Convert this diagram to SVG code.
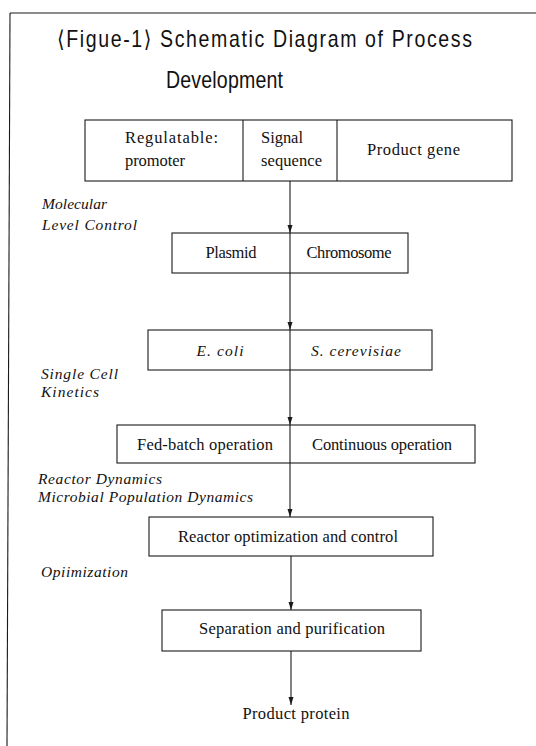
<svg xmlns="http://www.w3.org/2000/svg" width="536" height="746" viewBox="0 0 536 746">
<style>
.box{fill:none;stroke:#1a1a1a;stroke-width:1.1}
.ln{fill:none;stroke:#1a1a1a;stroke-width:1.1}
.t{font-family:"Liberation Serif","Times New Roman",serif;font-size:16.5px;fill:#111}
.c{text-anchor:middle}
.i{font-family:"Liberation Serif","Times New Roman",serif;font-size:15.5px;font-style:italic;fill:#111}
.h{font-family:"Liberation Sans","DejaVu Sans",sans-serif;font-size:23px;fill:#111}
</style>
<defs>
<marker id="ah" markerUnits="userSpaceOnUse" markerWidth="8" markerHeight="6" refX="8" refY="3" orient="auto" viewBox="0 0 8 6">
<path d="M0,0.5 L8,3 L0,5.5 Z" fill="#1a1a1a"/>
</marker>
</defs>
<rect width="536" height="746" fill="#fff"/>
<g id="frame">
<line class="ln" x1="10" y1="13" x2="536" y2="13"/>
<line class="ln" x1="10" y1="13" x2="7" y2="746"/>
</g>
<g id="title" transform="scale(0.85,1)">
<text class="h" x="67.06" y="47" textLength="488.2" lengthAdjust="spacing">⟨Figue-1⟩ Schematic Diagram of Process</text>
<text class="h" x="195.3" y="88" textLength="137.6" lengthAdjust="spacing">Development</text>
</g>
<g id="gene">
<rect class="box" x="85" y="120" width="427" height="61"/>
<line class="ln" x1="243" y1="120" x2="243" y2="181"/>
<line class="ln" x1="337" y1="120" x2="337" y2="181"/>
<text class="t" x="125" y="143" textLength="93" lengthAdjust="spacing">Regulatable:</text>
<text class="t" x="125" y="166" textLength="60" lengthAdjust="spacing">promoter</text>
<text class="t" x="261" y="143" textLength="42" lengthAdjust="spacing">Signal</text>
<text class="t" x="261" y="166" textLength="61" lengthAdjust="spacing">sequence</text>
<text class="t" x="367" y="155" textLength="93" lengthAdjust="spacing">Product gene</text>
</g>
<g id="vector">
<rect class="box" x="172" y="233" width="236" height="40"/>
<line class="ln" x1="290" y1="233" x2="290" y2="273"/>
<text class="t c" x="231" y="258" textLength="51" lengthAdjust="spacing">Plasmid</text>
<text class="t c" x="349" y="258" textLength="85" lengthAdjust="spacing">Chromosome</text>
</g>
<g id="host">
<rect class="box" x="148" y="330" width="284" height="40"/>
<line class="ln" x1="290" y1="330" x2="290" y2="370"/>
<text class="i c" x="220" y="356" textLength="47" lengthAdjust="spacing">E. coli</text>
<text class="i c" x="356" y="356" textLength="90" lengthAdjust="spacing">S. cerevisiae</text>
</g>
<g id="operation">
<rect class="box" x="117" y="425" width="358" height="38"/>
<line class="ln" x1="290" y1="425" x2="290" y2="463"/>
<text class="t c" x="205" y="450" textLength="136" lengthAdjust="spacing">Fed-batch operation</text>
<text class="t c" x="382" y="450" textLength="140" lengthAdjust="spacing">Continuous operation</text>
</g>
<g id="reactor">
<rect class="box" x="149" y="517" width="284" height="39"/>
<text class="t c" x="288" y="542" textLength="220" lengthAdjust="spacing">Reactor optimization and control</text>
</g>
<g id="separation">
<rect class="box" x="162" y="610" width="259" height="41"/>
<text class="t c" x="292" y="634" textLength="186" lengthAdjust="spacing">Separation and purification</text>
</g>
<g id="product">
<text class="t c" x="296" y="719" textLength="107" lengthAdjust="spacing">Product protein</text>
</g>
<g id="labels">
<text class="i" x="42" y="209" textLength="65" lengthAdjust="spacing">Molecular</text>
<text class="i" x="42" y="230" textLength="95" lengthAdjust="spacing">Level Control</text>
<text class="i" x="41" y="379" textLength="77" lengthAdjust="spacing">Single Cell</text>
<text class="i" x="41" y="397" textLength="58" lengthAdjust="spacing">Kinetics</text>
<text class="i" x="38" y="484" textLength="124" lengthAdjust="spacing">Reactor Dynamics</text>
<text class="i" x="38" y="502" textLength="215" lengthAdjust="spacing">Microbial Population Dynamics</text>
<text class="i" x="41" y="577" textLength="87" lengthAdjust="spacing">Opiimization</text>
</g>
<g id="connectors">
<line class="ln" x1="290" y1="181" x2="290" y2="233" marker-end="url(#ah)"/>
<line class="ln" x1="290" y1="273" x2="290" y2="330" marker-end="url(#ah)"/>
<line class="ln" x1="290" y1="370" x2="290" y2="425" marker-end="url(#ah)"/>
<line class="ln" x1="290" y1="463" x2="290" y2="517" marker-end="url(#ah)"/>
<line class="ln" x1="291" y1="556" x2="291" y2="610" marker-end="url(#ah)"/>
<line class="ln" x1="291" y1="651" x2="291" y2="705" marker-end="url(#ah)"/>
</g>
</svg>
